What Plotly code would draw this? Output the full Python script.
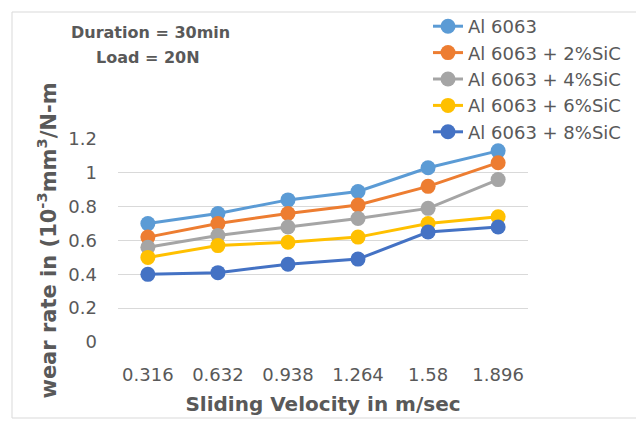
import plotly.graph_objects as go

velocity = ["0.316", "0.632", "0.938", "1.264", "1.58", "1.896"]
al6063 = [0.70, 0.76, 0.84, 0.89, 1.03, 1.13]
sic2 = [0.62, 0.70, 0.76, 0.81, 0.92, 1.06]
sic4 = [0.56, 0.63, 0.68, 0.73, 0.79, 0.96]
sic6 = [0.50, 0.57, 0.59, 0.62, 0.70, 0.74]
sic8 = [0.40, 0.41, 0.46, 0.49, 0.65, 0.68]

series_names = ["Al 6063", "Al 6063 + 2%SiC", "Al 6063 + 4%SiC", "Al 6063 + 6%SiC", "Al 6063 + 8%SiC"]
series_values = [al6063, sic2, sic4, sic6, sic8]
colors = ["#5B9BD5", "#ED7D31", "#A5A5A5", "#FFC000", "#4472C4"]

FONT = "DejaVu Sans"
GREY = "#595959"

fig = go.Figure()
for i, (name, vals, col) in enumerate(zip(series_names, series_values, colors)):
    fig.add_trace(go.Scatter(
        x=velocity, y=vals, name=name, mode="lines+markers",
        line=dict(color=col, width=3),
        marker=dict(color=col, size=15),
    ))

# page body has an 8px margin: work in screen pixels and convert
OFF = 8
W, H = 644 - OFF, 421 - OFF
PL, PR, PT, PB = 118, 528, 139, 342          # plot area in screen px
L, T = PL - OFF, PT - OFF
R, B = W - (PR - OFF), H - (PB - OFF)
pw = W - L - R
ph = H - T - B

def px(x):
    return (x - PL) / pw

def py(y):
    return (PB - y) / ph

fig.update_layout(
    width=W, height=H,
    margin=dict(l=L, r=R, t=T, b=B, pad=0, autoexpand=False),
    paper_bgcolor="white", plot_bgcolor="white",
    font=dict(family=FONT, color=GREY, size=18),
    showlegend=True,
    legend=dict(
        x=px(428), y=py(8), xanchor="left", yanchor="top",
        font=dict(family=FONT, size=18, color=GREY),
        bgcolor="rgba(0,0,0,0)", tracegroupgap=0,
    ),
    xaxis=dict(
        type="category", showgrid=False, zeroline=False, showline=False,
        ticks="", ticklabelstandoff=20, automargin=False,
        tickfont=dict(size=18, color=GREY),
        title=dict(text="<b>Sliding Velocity in m/sec</b>", font=dict(size=20, color=GREY), standoff=12),
    ),
    yaxis=dict(
        range=[0, 1.2], tickvals=[0, 0.2, 0.4, 0.6, 0.8, 1.0, 1.2],
        ticktext=["0", "0.2", "0.4", "0.6", "0.8", "1", "1.2"],
        showgrid=True, gridcolor="#D9D9D9", gridwidth=1,
        zeroline=False, showline=False, ticks="", ticklabelstandoff=20,
        automargin=False,
        tickfont=dict(size=18, color=GREY),
        title=dict(text="<b>wear rate in (10<sup>-3</sup>mm<sup>3</sup>/N-m</b>", font=dict(size=21, color=GREY), standoff=6),
    ),
    shapes=[dict(type="rect", xref="paper", yref="paper",
                 x0=px(12), x1=px(640), y0=py(418), y1=py(12),
                 line=dict(color="#D9D9D9", width=1), layer="below")],
    annotations=[
        dict(text="<b>Duration = 30min</b>", xref="paper", yref="paper",
             x=px(150), y=py(32), xanchor="center", yanchor="middle",
             showarrow=False, font=dict(size=16, color=GREY)),
        dict(text="<b>Load = 20N</b>", xref="paper", yref="paper",
             x=px(148), y=py(57), xanchor="center", yanchor="middle",
             showarrow=False, font=dict(size=16, color=GREY)),
    ],
)

fig.write_html("out.html")
